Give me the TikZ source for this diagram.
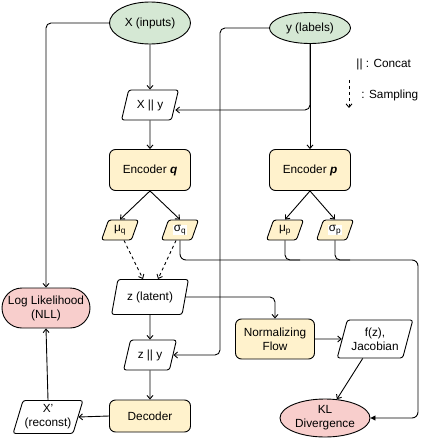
\documentclass[tikz,border=0pt]{standalone}
\usepackage{fontspec}
\setmainfont{Liberation Sans}
\usetikzlibrary{arrows.meta,shapes.geometric,calc}
\definecolor{gfill}{HTML}{D5E8D4}
\definecolor{yfill}{HTML}{FFF2CC}
\definecolor{rfill}{HTML}{F8CECC}
\tikzset{
  base/.style={draw=black, line width=0.9pt, inner sep=1pt, align=center, font=\fontsize{11.8}{14}\selectfont},
  oval/.style={base, ellipse, fill=gfill},
  proc/.style={base, rectangle, rounded corners=6pt, fill=yfill, minimum width=81pt},
  para/.style={base, trapezium, trapezium left angle=70, trapezium right angle=110, trapezium stretches=true, rounded corners=2.5pt, fill=white},
  ypara/.style={para, fill=yfill, minimum width=37pt, minimum height=20pt},
  stad/.style={base, rectangle, rounded corners=20pt, fill=rfill},
  conn/.style={line width=0.9pt, -{Straight Barb[length=3.5pt,width=6pt]}},
  dconn/.style={conn, dashed},
  fconn/.style={line width=0.9pt, -{Triangle[length=5pt,width=5pt]}},
}
\newcommand{\wbg}[1]{{\setlength{\fboxsep}{0.5pt}\colorbox{white}{#1}}}
\begin{document}
\begin{tikzpicture}[x=1pt,y=-1pt]
\useasboundingbox (0,0) rectangle (429,441);

% nodes
\node[oval, minimum width=81pt, minimum height=42pt] (X) at (150,23) {X (inputs)};
\node[oval, minimum width=81pt, minimum height=31pt] (Y) at (310,28) {y (labels)};
\node[para, minimum width=57pt, minimum height=30pt] (Xy) at (150,105) {X || y};
\node[proc, minimum height=41pt] (encq) at (150,170) {Encoder \textbf{\textit{q}}};
\node[proc, minimum height=41pt] (encp) at (310,170) {Encoder \textbf{\textit{p}}};
\node[ypara] (muq) at (120,230) {μ\textsubscript{q}};
\node[ypara] (sigq) at (180,230) {\wbg{σ\textsubscript{q}}};
\node[ypara] (mup) at (285,230) {μ\textsubscript{p}};
\node[ypara] (sigp) at (335,230) {\wbg{σ\textsubscript{p}}};
\node[para, minimum width=77pt, minimum height=35pt] (z) at (150,297) {z (latent)};
\node[para, minimum width=53pt, minimum height=30pt] (zy) at (150,355) {z || y};
\node[proc, minimum height=32pt] (dec) at (150,416) {Decoder};
\node[para, minimum width=70pt, minimum height=33pt] (Xp) at (48,417) {X'\\(reconst)};
\node[stad, minimum width=88pt, minimum height=40pt] (LL) at (46,308) {Log Likelihood\\(NLL)};
\node[proc, minimum width=79pt, minimum height=40pt] (NF) at (275,339) {Normalizing\\Flow};
\node[para, minimum width=76pt, minimum height=38pt] (fz) at (375,339) {f(z),\\Jacobian};
\node[base, ellipse, fill=rfill, minimum width=90pt, minimum height=38pt] (KL) at (325,418) {KL\\Divergence};

% legend
\node[base, draw=none, anchor=west] (lgc) at (355,64) {|| : Concat};
\coordinate (ls1) at (349,80);
\coordinate (ls2) at (349,108);
\node[base, draw=none, anchor=west] (lgs) at (360,95) {: Sampling};
\draw[dconn] (ls1) -- (ls2);

% connectors
\draw[conn, rounded corners=5pt] (X.west) -| (LL.north);
\draw[conn] (X.south) -- (Xy.north);
\draw[conn, rounded corners=5pt] (Y.west) -| (220,355) -- (zy.east);
\draw[conn] (Y.south) -- (encp.north);
\draw[conn, rounded corners=5pt] (Y.south) |- ($(Xy.east)+(0,5)$);
\draw[conn] (Xy.south) -- (encq.north);
\draw[conn] (encq.south) -- (muq.north);
\draw[conn] (encq.south) -- (sigq.north);
\draw[conn] (encp.south) -- (mup.north);
\draw[conn] (encp.south) -- (sigp.north);
\draw[dconn] ($(muq.south)+(4,0)$) -- ($(z.north)+(-7,0)$);
\draw[dconn] ($(sigq.south)+(-4,0)$) -- ($(z.north)+(8,0)$);
\draw[conn] (z.south) -- (zy.north);
\draw[conn] (zy.south) -- (dec.north);
\draw[conn, rounded corners=5pt] (z.east) -| (NF.north);
\draw[conn] (NF.east) -- (fz.west);
\draw[conn] (fz) -- (KL);
\draw[conn] (dec.west) -- (Xp.east);
\draw[conn] (Xp.north) -- (LL.south);
\draw[fconn, rounded corners=6pt] (sigq.south) |- (418,260) |- (KL.east);
\draw[line width=0.9pt, rounded corners=5pt] (mup.south) |- (300,260);
\draw[line width=0.9pt, rounded corners=5pt] (sigp.south) |- (350,260);
\end{tikzpicture}
\end{document}
